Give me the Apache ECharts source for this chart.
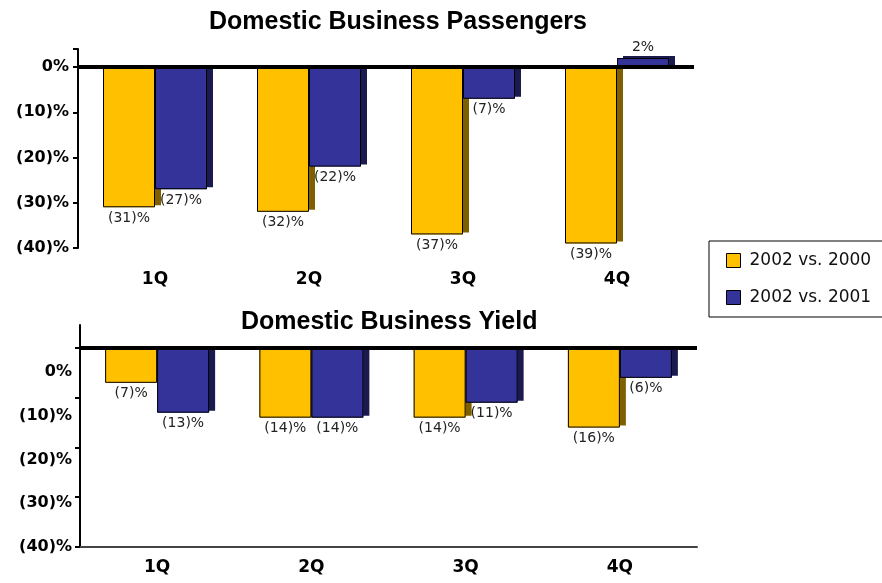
<!DOCTYPE html>
<html>
<head>
<meta charset="utf-8">
<script src="https://cdn.jsdelivr.net/npm/echarts@6/dist/echarts.min.js"></script>
<style>html,body{margin:0;padding:0;background:#fff}#c{width:882px;height:583px}</style>
</head>
<body>
<div id="c"></div>
<script>
const quarters = ['1Q', '2Q', '3Q', '4Q'];
const seriesNames = ['2002 vs. 2000', '2002 vs. 2001'];
const passengers2000 = [-31, -32, -37, -39];
const passengers2001 = [-27, -22, -7, 2];
const yield2000 = [-7, -14, -14, -16];
const yield2001 = [-13, -14, -11, -6];
const yTickValues = [0, -10, -20, -30, -40];
const titles = ['Domestic Business Passengers', 'Domestic Business Yield'];

const YELLOW = '#FFC000', YELLOW_SIDE = '#7F6000';
const BLUE = '#333399', BLUE_SIDE = '#1A1A4E';

function pctFmt(v) {
  if (v === 0) return '0%';
  if (v < 0) return '(' + (-v) + ')%';
  return '';
}
function barLabel(v) {
  return v < 0 ? '(' + (-v) + ')%' : v + '%';
}
function mkData(arr) {
  return arr.map(v => ({
    value: v,
    label: { position: v < 0 ? 'bottom' : 'top' }
  }));
}
function mkSeries(name, arr, color, side, idx, withZero) {
  const s = {
    name: name,
    type: 'bar',
    xAxisIndex: idx,
    yAxisIndex: idx,
    barWidth: 52,
    barGap: '0%',
    data: mkData(arr),
    itemStyle: {
      color: color, borderWidth: 0,
      shadowColor: side, shadowBlur: 0, shadowOffsetX: 6, shadowOffsetY: -2
    },
    label: {
      show: true,
      formatter: p => barLabel(p.value),
      fontFamily: 'DejaVu Sans', fontSize: 14, color: '#222', distance: 4
    }
  };
  if (withZero) {
    s.markLine = {
      silent: true, symbol: 'none', label: { show: false },
      lineStyle: { color: '#000', width: 4, type: 'solid' },
      data: [{ yAxis: 0 }]
    };
  }
  return s;
}
// thin black outline drawn over the filled bars (same values, separate hidden category axis)
function mkOutline(arr, xIdx, yIdx) {
  return {
    type: 'bar',
    xAxisIndex: xIdx,
    yAxisIndex: yIdx,
    barWidth: 52,
    barGap: '0%',
    silent: true,
    z: 3,
    data: arr,
    itemStyle: { color: 'rgba(0,0,0,0)', borderColor: '#000', borderWidth: 1 },
    label: { show: false }
  };
}

const chart = echarts.init(document.getElementById('c'));
const catLabel = { fontFamily: 'DejaVu Sans', fontWeight: 'bold', fontSize: 17, color: '#000' };
const yLabel = { fontFamily: 'DejaVu Sans', fontWeight: 'bold', fontSize: 16, color: '#000' };
const hiddenCat = gi => ({ type: 'category', gridIndex: gi, data: quarters, show: false });

chart.setOption({
  animation: false,
  backgroundColor: '#fff',
  title: [
    { text: titles[0], left: 204, top: 5,
      textStyle: { fontFamily: 'Liberation Sans', fontWeight: 'bold', fontSize: 25, color: '#000' } },
    { text: titles[1], left: 236, top: 305,
      textStyle: { fontFamily: 'Liberation Sans', fontWeight: 'bold', fontSize: 25, color: '#000' } }
  ],
  legend: {
    data: seriesNames,
    orient: 'vertical',
    left: 709, top: 241,
    padding: [11, 30, 11, 17],
    itemGap: 20,
    itemWidth: 14, itemHeight: 14,
    icon: 'rect',
    borderColor: '#000', borderWidth: 1,
    itemStyle: { borderColor: '#000', borderWidth: 1, shadowBlur: 0, shadowOffsetX: 0, shadowOffsetY: 0, shadowColor: 'rgba(0,0,0,0)' },
    textStyle: { fontFamily: 'DejaVu Sans', fontSize: 17, color: '#111', padding: [0, 0, 0, 4] }
  },
  grid: [
    { left: 78, top: 49, width: 616, height: 199 },
    { left: 80, top: 325, width: 617, height: 222 }
  ],
  xAxis: [
    { type: 'category', gridIndex: 0, data: quarters,
      axisLine: { show: false }, axisTick: { show: false },
      axisLabel: Object.assign({ margin: 23 }, catLabel) },
    { type: 'category', gridIndex: 1, data: quarters,
      axisLine: { show: true, onZero: false, lineStyle: { color: '#444', width: 2 } },
      axisTick: { show: false },
      axisLabel: Object.assign({ margin: 12 }, catLabel) },
    hiddenCat(0),
    hiddenCat(1)
  ],
  yAxis: [
    { type: 'value', gridIndex: 0, position: 'left', min: -40, max: 4, interval: 10,
      splitLine: { show: false },
      axisLine: { show: true, lineStyle: { color: '#000', width: 2 } },
      axisTick: { show: true, length: 5, lineStyle: { color: '#000', width: 2 } },
      axisLabel: Object.assign({ margin: 9, formatter: pctFmt }, yLabel) },
    { type: 'value', gridIndex: 1, position: 'left', min: -40, max: 4.62, interval: 10,
      splitLine: { show: false },
      axisLine: { show: true, lineStyle: { color: '#000', width: 2 } },
      axisTick: { show: true, length: 5, lineStyle: { color: '#000', width: 2 }, customValues: yTickValues },
      axisLabel: { show: false } },
    { type: 'value', gridIndex: 1, position: 'left', offset: 0, min: -40, max: 10.74, interval: 10,
      splitLine: { show: false },
      axisLine: { show: false }, axisTick: { show: false },
      axisLabel: Object.assign({ margin: 8, formatter: pctFmt, customValues: yTickValues }, yLabel) }
  ],
  series: [
    mkSeries(seriesNames[0], passengers2000, YELLOW, YELLOW_SIDE, 0, true),
    mkSeries(seriesNames[1], passengers2001, BLUE, BLUE_SIDE, 0, false),
    mkSeries(seriesNames[0], yield2000, YELLOW, YELLOW_SIDE, 1, true),
    mkSeries(seriesNames[1], yield2001, BLUE, BLUE_SIDE, 1, false),
    mkOutline(passengers2000, 2, 0),
    mkOutline(passengers2001, 2, 0),
    mkOutline(yield2000, 3, 1),
    mkOutline(yield2001, 3, 1)
  ]
});
</script>
</body>
</html>
